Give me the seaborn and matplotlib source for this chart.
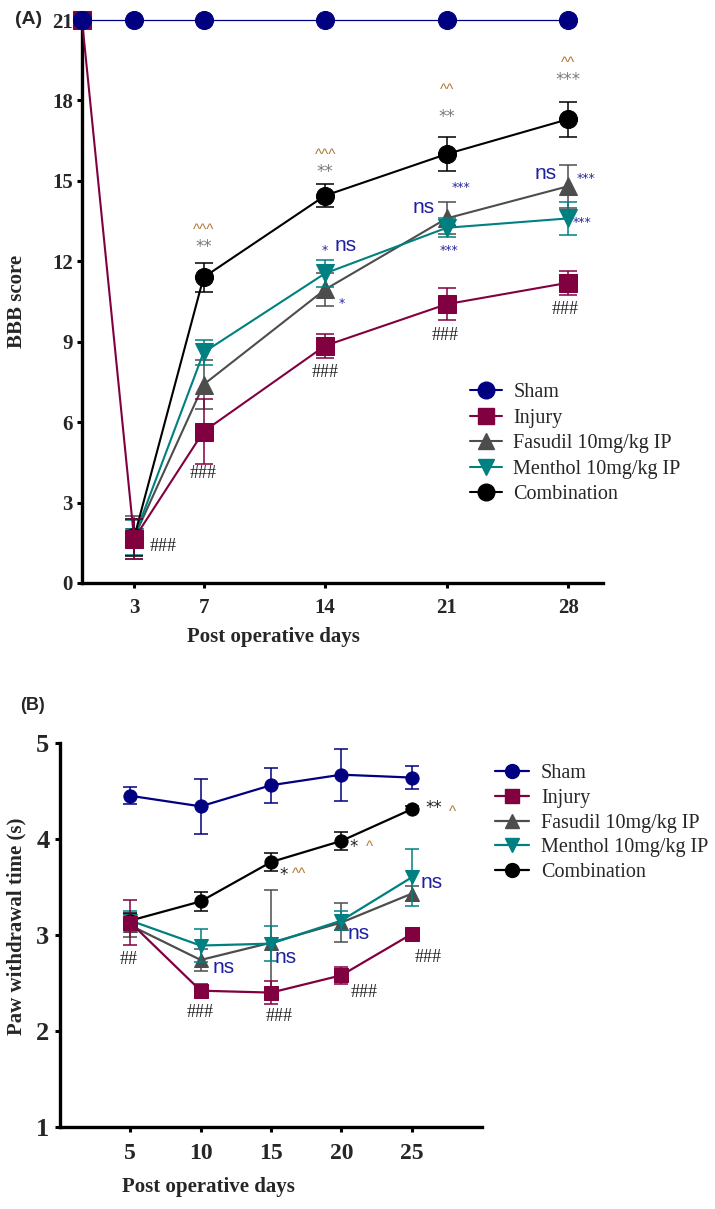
import matplotlib
matplotlib.use("Agg")
import matplotlib.pyplot as plt
from matplotlib.lines import Line2D
from matplotlib.font_manager import FontProperties
import seaborn as sns

# Panel A: BBB score
days_a = [0, 3, 7, 14, 21, 28]
days_a_treat = [3, 7, 14, 21, 28]
sham_a = [21, 21, 21, 21, 21, 21]
injury_a = [21, 1.65, 5.65, 8.85, 10.4, 11.2]
injury_a_err = [0, 0.75, 1.2, 0.45, 0.6, 0.45]
fasudil_a = [1.7, 7.4, 10.95, 13.6, 14.8]
fasudil_a_err = [0.8, 0.9, 0.6, 0.6, 0.8]
menthol_a = [1.7, 8.6, 11.55, 13.25, 13.6]
menthol_a_err = [0.65, 0.45, 0.5, 0.35, 0.62]
combination_a = [1.7, 11.4, 14.45, 16.0, 17.3]
combination_a_err = [0.7, 0.55, 0.42, 0.65, 0.65]
xticks_a = [3, 7, 14, 21, 28]
yticks_a = [0, 3, 6, 9, 12, 15, 18, 21]

# Panel B: paw withdrawal time
days_b = [5, 10, 15, 20, 25]
sham_b = [4.45, 4.34, 4.56, 4.67, 4.64]
sham_b_err = [0.09, 0.29, 0.18, 0.27, 0.12]
injury_b = [3.13, 2.42, 2.40, 2.58, 3.01]
injury_b_err = [0.23, 0.07, 0.12, 0.09, 0.02]
fasudil_b = [3.10, 2.74, 2.92, 3.13, 3.43]
fasudil_b_err = [0.12, 0.11, 0.55, 0.2, 0.08]
menthol_b = [3.15, 2.89, 2.91, 3.15, 3.60]
menthol_b_err = [0.1, 0.17, 0.18, 0.1, 0.3]
combination_b = [3.15, 3.35, 3.76, 3.98, 4.31]
combination_b_err = [0.08, 0.1, 0.09, 0.09, 0.03]
xticks_b = [5, 10, 15, 20, 25]
yticks_b = [1, 2, 3, 4, 5]

groups = ["Sham", "Injury", "Fasudil 10mg/kg IP", "Menthol 10mg/kg IP", "Combination"]
colors = ["#000080", "#800040", "#4d4d4d", "#008080", "#000000"]
markers = ["o", "s", "^", "v", "o"]

sns.set_style("ticks")
plt.rcParams["font.family"] = ["Liberation Serif", "DejaVu Sans"]

CARET = "#b07a3a"
BLUE = "#1f1f9f"
STAR_BLUE = "#2a2aa0"

fig = plt.figure(figsize=(7.15, 12.09), dpi=100)
axA = fig.add_axes([82 / 715, 1 - 583 / 1209, 521 / 715, 563 / 1209])
axB = fig.add_axes([60 / 715, 1 - 1127 / 1209, 422 / 715, 384 / 1209])


def draw(ax, x, y, err, i, ms, lw, cap, z):
    c = colors[i]
    if err is not None:
        ax.errorbar(x, y, yerr=err, fmt="none", ecolor=c, elinewidth=1.1,
                    capsize=cap, capthick=1.1, clip_on=False, zorder=z - 0.5)
    sns.lineplot(x=x, y=y, ax=ax, color=c, marker=markers[i], markersize=ms,
                 markeredgecolor=c, linewidth=lw, errorbar=None, legend=False,
                 clip_on=False, zorder=z)


# ---- panel A ----
draw(axA, days_a_treat, fasudil_a, fasudil_a_err, 2, 13, 1.5, 6.5, 4)
draw(axA, days_a_treat, menthol_a, menthol_a_err, 3, 13, 1.5, 6.5, 5)
draw(axA, days_a_treat, combination_a, combination_a_err, 4, 13, 1.5, 6.5, 6)
draw(axA, days_a, injury_a, injury_a_err, 1, 13, 1.5, 6.5, 6.6)
draw(axA, days_a, sham_a, None, 0, 13, 0.9, 6.5, 7)

axA.set_xlim(0, 30)
axA.set_ylim(0, 21)
axA.set_xticks(xticks_a, labels=[str(t) for t in xticks_a], fontsize=15, fontweight="bold")
axA.set_yticks(yticks_a, labels=[str(t) for t in yticks_a], fontsize=15, fontweight="bold")
axA.tick_params(axis="both", length=3.6, width=2.2, color="black")
axA.tick_params(axis="y", pad=3)
axA.tick_params(axis="x", pad=7)
sns.despine(ax=axA)
for s in ["left", "bottom"]:
    axA.spines[s].set_linewidth(2.4)
    axA.spines[s].set_color("black")
axA.set_xlabel("Post operative days", fontsize=15, fontweight="bold")
axA.set_ylabel("BBB score", fontsize=15, fontweight="bold")
axA.xaxis.set_label_coords(0.367, -0.096)
axA.xaxis.label.set_va("center")
axA.yaxis.set_label_coords(-0.125, 0.5)
axA.yaxis.label.set_va("center")

ann_kw = dict(ha="center", va="center", zorder=10)
# carets and grey stars above combination
for x, y, t in [(7, 13.17, "^^^"), (14, 15.96, "^^^"), (21, 18.39, "^^"), (28, 19.4, "^^")]:
    axA.text(x, y, t, color=CARET, fontsize=11, family="Liberation Sans", **ann_kw)
for x, y, t in [(7, 12.53, "**"), (14, 15.33, "**"), (21, 17.38, "**"), (28, 18.76, "***")]:
    axA.text(x, y, t, color="#7a7a7a", fontsize=12, family="DejaVu Sans", **ann_kw)
for x, y, t in [(14, 12.42, "*"), (14.95, 10.44, "*"), (21.8, 14.77, "***"),
                (21.15, 12.42, "***"), (29.0, 15.1, "***"), (28.8, 13.46, "***")]:
    axA.text(x, y, t, color=STAR_BLUE, fontsize=9, family="DejaVu Sans", **ann_kw)
for x, y in [(15.2, 12.6), (19.7, 13.99), (26.7, 15.29)]:
    axA.text(x, y, "ns", color=BLUE, fontsize=15, family="Liberation Sans", **ann_kw)
for x, y in [(4.66, 1.38), (7, 4.07), (14, 7.87), (20.9, 9.25), (27.8, 10.22)]:
    axA.text(x, y, "###", color="#222222", fontsize=13, **ann_kw)

fp = FontProperties(family="Liberation Serif", size=14.5)
hA = [Line2D([], [], color=colors[i], marker=markers[i], markersize=12,
             markeredgecolor=colors[i], lw=1.5) for i in range(5)]
axA.legend(hA, groups, prop=fp, frameon=False, loc="upper left",
           bbox_to_anchor=(0.745, 0.355), handlelength=1.6, handletextpad=0.55,
           labelspacing=0.32, borderpad=0, borderaxespad=0)

# ---- panel B ----
draw(axB, days_b, fasudil_b, fasudil_b_err, 2, 9.5, 1.6, 5.3, 4)
draw(axB, days_b, menthol_b, menthol_b_err, 3, 9.5, 1.6, 5.3, 5)
draw(axB, days_b, combination_b, combination_b_err, 4, 9.5, 1.6, 5.3, 6)
draw(axB, days_b, injury_b, injury_b_err, 1, 10, 1.6, 5.3, 6.6)
draw(axB, days_b, sham_b, sham_b_err, 0, 9.5, 1.6, 5.3, 7)

axB.set_xlim(0, 30)
axB.set_ylim(1, 5)
axB.set_xticks(xticks_b, labels=[str(t) for t in xticks_b], fontsize=17, fontweight="bold")
axB.set_yticks(yticks_b, labels=[str(t) for t in yticks_b], fontsize=19, fontweight="bold")
axB.tick_params(axis="both", length=3.6, width=2.2, color="black")
axB.tick_params(axis="y", pad=4)
axB.tick_params(axis="x", pad=8)
sns.despine(ax=axB)
for s in ["left", "bottom"]:
    axB.spines[s].set_linewidth(2.4)
    axB.spines[s].set_color("black")
axB.set_xlabel("Post operative days", fontsize=15, fontweight="bold")
axB.set_ylabel("Paw withdrawal time (s)", fontsize=15, fontweight="bold")
axB.xaxis.set_label_coords(0.351, -0.156)
axB.xaxis.label.set_va("center")
axB.yaxis.set_label_coords(-0.104, 0.523)
axB.yaxis.label.set_va("center")

for x, y in [(11.6, 2.66), (16.07, 2.77), (21.2, 3.02), (26.4, 3.55)]:
    axB.text(x, y, "ns", color=BLUE, fontsize=15, family="Liberation Sans", **ann_kw)
for x, y, t in [(10, 2.19, "###"), (15.6, 2.15, "###"), (21.6, 2.40, "###"), (26.2, 2.77, "###"),
                (4.86, 2.74, "##")]:
    axB.text(x, y, t, color="#222222", fontsize=13, **ann_kw)
for x, y, t in [(15.9, 3.62, "*"), (20.9, 3.92, "*"), (26.6, 4.32, "**")]:
    axB.text(x, y, t, color="#222222", fontsize=12, family="DejaVu Sans", **ann_kw)
for x, y, t in [(17.0, 3.64, "^^"), (22.0, 3.92, "^"), (27.9, 4.28, "^")]:
    axB.text(x, y, t, color=CARET, fontsize=11, family="Liberation Sans", **ann_kw)

hB = [Line2D([], [], color=colors[i], marker=markers[i], markersize=10,
             markeredgecolor=colors[i], lw=1.6) for i in range(5)]
axB.legend(hB, groups, prop=fp, frameon=False, loc="upper left",
           bbox_to_anchor=(1.03, 0.945), handlelength=1.7, handletextpad=0.6,
           labelspacing=0.28, borderpad=0, borderaxespad=0)

fig.text(15 / 715, 1 - 20 / 1209, "(A)", fontsize=14, fontweight="bold",
         family="Liberation Sans", va="center", ha="left")
fig.text(20 / 715, 1 - 705 / 1209, "(B)", fontsize=13, fontweight="bold",
         family="Liberation Sans", va="center", ha="left")

fig.savefig("out.png", dpi=100)
